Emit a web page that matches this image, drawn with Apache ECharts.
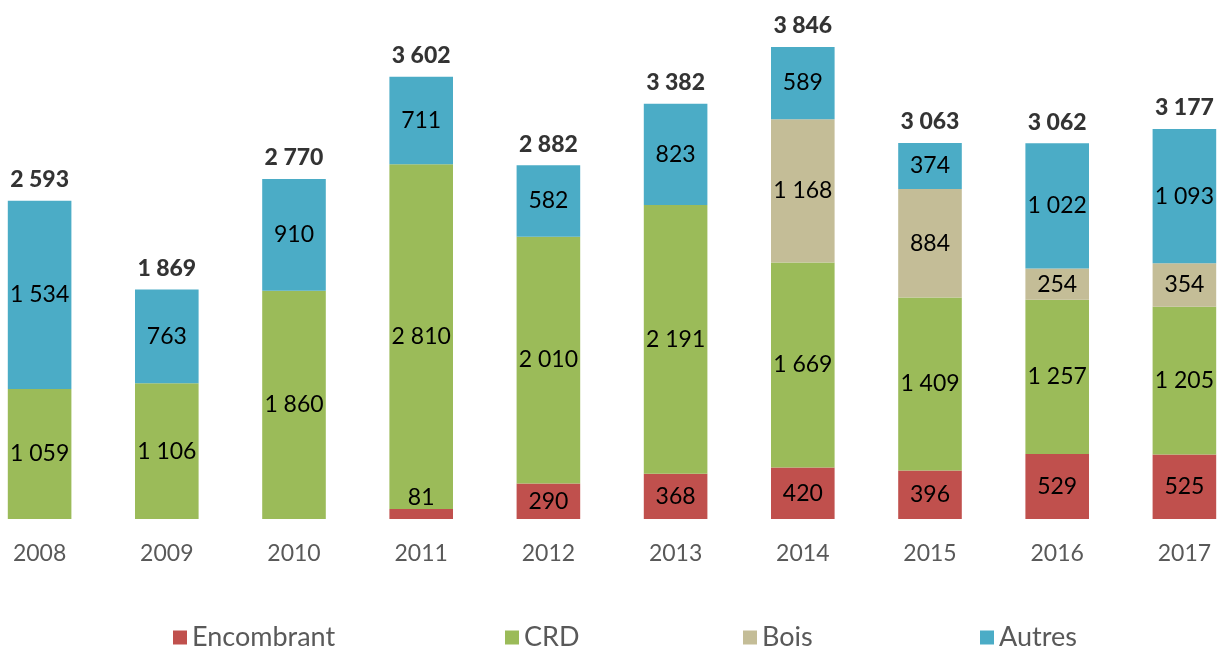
<!DOCTYPE html>
<html>
<head>
<meta charset="utf-8">
<script src="https://cdn.jsdelivr.net/npm/echarts@6/dist/echarts.min.js"></script>
<style>
    html, body { margin: 0; padding: 0; background: #fff; overflow: hidden; }
    /* le graphique déborde un peu des deux côtés, comme l'original */
    #chart { width: 1272px; height: 646px; margin-left: -24px; }
</style>
</head>
<body>
<div id="chart"></div>
<script>
// Données (tonnes par année)
const years = ['2008', '2009', '2010', '2011', '2012', '2013', '2014', '2015', '2016', '2017'];
const encombrant = [0, 0, 0, 81, 290, 368, 420, 396, 529, 525];
const crd = [1059, 1106, 1860, 2810, 2010, 2191, 1669, 1409, 1257, 1205];
const bois = [0, 0, 0, 0, 0, 0, 1168, 884, 254, 354];
const autres = [1534, 763, 910, 711, 582, 823, 589, 374, 1022, 1093];

// total de chaque année
const totals = years.map((y, i) => encombrant[i] + crd[i] + bois[i] + autres[i]);

const FONT = 'Lato, "Open Sans", sans-serif';

// format "1 534"
function fmt(v) {
    return String(v).replace(/\B(?=(\d{3})+(?!\d))/g, ' ');
}

function segLabel(p) {
    return p.value ? fmt(p.value) : '';
}

function barSeries(name, data, color) {
    return {
        name: name,
        type: 'bar',
        stack: 'total',
        barWidth: '50%',
        data: data,
        itemStyle: { color: color },
        label: {
            show: true,
            position: 'inside',
            color: '#000',
            fontFamily: FONT,
            fontSize: 23,
            formatter: segLabel
        }
    };
}

// le petit 81 de 2011 est écrit au-dessus du segment
const encData = encombrant.map((v, i) => v && v < 150
    ? { value: v, label: { position: 'top', distance: 0 } }
    : v);

const chart = echarts.init(document.getElementById('chart'));

function legendAt(name, left) {
    return {
        data: [name],
        left: left + 24,
        top: 619,
        icon: 'rect',
        itemWidth: 14,
        itemHeight: 14,
        itemGap: 8,
        textStyle: { color: '#595959', fontSize: 27, fontFamily: FONT }
    };
}

chart.setOption({
    animation: false,
    legend: [
        legendAt('Encombrant', 168),
        legendAt('CRD', 500),
        legendAt('Bois', 738),
        legendAt('Autres', 975)
    ],
    grid: { left: 0, right: 0, top: 28, bottom: 127, containLabel: false },
    xAxis: {
        type: 'category',
        data: years,
        axisLine: { show: false },
        axisTick: { show: false },
        axisLabel: { color: '#595959', fontSize: 23, fontFamily: FONT, margin: 23 }
    },
    yAxis: {
        type: 'value',
        min: 0,
        max: 4000,
        show: false,
        splitLine: { show: false }
    },
    series: [
        barSeries('Encombrant', encData, '#C0504D'),
        barSeries('CRD', crd, '#9BBB59'),
        barSeries('Bois', bois, '#C4BD97'),
        barSeries('Autres', autres, '#4BACC6'),
        {
            name: 'Total',
            type: 'scatter',
            data: totals,
            symbolSize: 1,
            itemStyle: { color: 'rgba(0,0,0,0)' },
            silent: true,
            label: {
                show: true,
                position: 'top',
                distance: 9,
                color: '#000',
                fontWeight: 900,
                fontFamily: FONT,
                fontSize: 23,
                formatter: p => fmt(p.value)
            }
        }
    ]
});

window.addEventListener('resize', function () {
    chart.resize();
});
</script>
</body>
</html>
